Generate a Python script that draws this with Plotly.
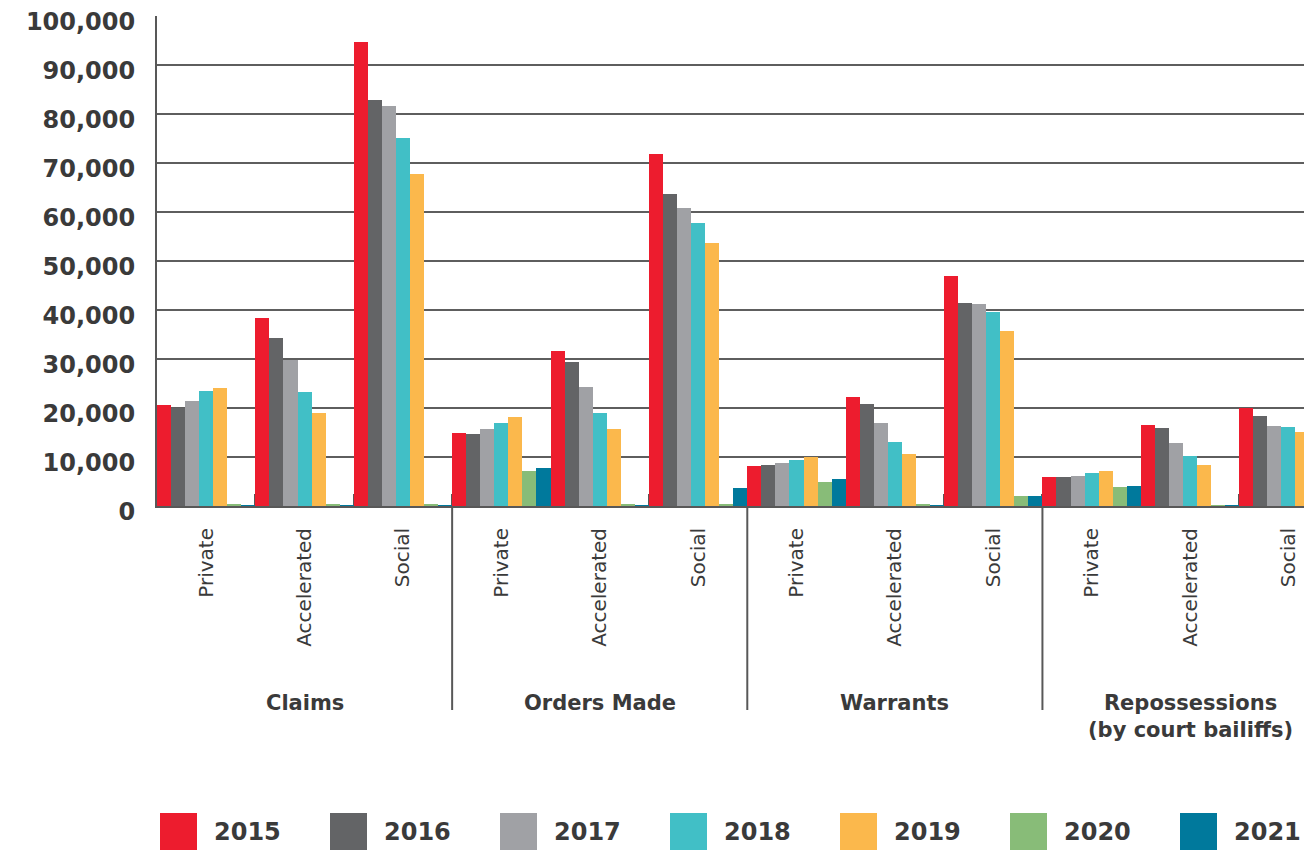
import plotly.graph_objects as go

groups = ["Claims", "Orders Made", "Warrants", "Repossessions<br>(by court bailiffs)"]
subs = ["Private", "Accelerated", "Social"]
years = ["2015", "2016", "2017", "2018", "2019", "2020", "2021"]
colors = ["#ED1C2E", "#636466", "#A0A1A5", "#41BFC6", "#FBB84C", "#88BC78", "#00799C"]

# order: Claims(P,A,S), Orders Made(P,A,S), Warrants(P,A,S), Repossessions(P,A,S)
v2015 = [20600, 38400, 94700, 14900, 31600, 71800, 8200, 22300, 46900, 5900, 16500, 19900]
v2016 = [20100, 34300, 82900, 14700, 29400, 63700, 8400, 20800, 41400, 5900, 15900, 18400]
v2017 = [21400, 29700, 81600, 15700, 24300, 60800, 8800, 16900, 41200, 6100, 12900, 16300]
v2018 = [23500, 23300, 75200, 16900, 19000, 57800, 9400, 13100, 39600, 6700, 10200, 16100]
v2019 = [24100, 19000, 67800, 18200, 15700, 53700, 9900, 10600, 35700, 7100, 8400, 15100]
v2020 = [300, 300, 300, 7100, 300, 300, 4900, 300, 2000, 3900, 200, 3500]
v2021 = [200, 200, 200, 7800, 200, 3700, 5500, 200, 2000, 4100, 100, 3600]
series = [v2015, v2016, v2017, v2018, v2019, v2020, v2021]

xpos = list(range(len(groups) * len(subs)))
ticktext = subs * len(groups)

TXT = "#3a3a3a"
LINE = "#585858"
FONT = "DejaVu Sans"

# page body has an 8px margin; plot area spans window px x 157..1312, y 16..506
PAD = 8
PL, PT, PW, PH = 157, 16, 1155, 490


def px_x(px):
    return (px - PL) / PW


def px_y(py):
    return (PT + PH - py) / PH


fig = go.Figure()
for name, col, vals in zip(years, colors, series):
    fig.add_trace(go.Bar(x=xpos, y=vals, name=name, marker=dict(color=col, line=dict(width=0)),
                         showlegend=False))

n_sub = len(subs)
boundaries = [i + 0.5 for i in xpos[:-1]]
group_bounds = [g * n_sub - 0.5 for g in range(1, len(groups))]

fig.update_layout(
    width=1312 - PAD, height=852 - PAD,
    margin=dict(l=PL - PAD, r=0, t=PT - PAD, b=852 - PAD - (PT - PAD) - PH, autoexpand=False),
    paper_bgcolor="white", plot_bgcolor="white",
    barmode="group", bargap=0, bargroupgap=0,
    font=dict(family=FONT, color=TXT),
    xaxis=dict(
        type="linear", range=[-0.5, 11.24], automargin=False,
        tickmode="array", tickvals=xpos, ticktext=ticktext, tickangle=-90,
        tickfont=dict(family=FONT, size=20, color=TXT),
        ticks="", ticklabelstandoff=12,
        showgrid=False, zeroline=False,
        showline=True, linecolor=LINE, linewidth=2,
        layer="below traces",
        minor=dict(tickmode="array", tickvals=boundaries, ticks="inside", ticklen=12,
                   tickcolor=LINE, tickwidth=2, showgrid=False),
    ),
    yaxis=dict(
        range=[0, 100000], dtick=10000, tickformat=",", automargin=False,
        tickfont=dict(family=FONT, size=24, color=TXT, weight="bold"),
        showgrid=True, gridcolor="#5e5e5e", gridwidth=1.5,
        zeroline=False, showline=True, linecolor=LINE, linewidth=2,
        ticks="", ticklabelstandoff=15, ticklabelshift=6,
    ),
)

# group dividers
for gb in group_bounds:
    fig.add_shape(type="line", xref="x", yref="paper", x0=gb, x1=gb, y0=0, y1=px_y(710),
                  line=dict(color=LINE, width=2))

# group labels
for gi, g in enumerate(groups):
    center = gi * n_sub + (n_sub - 1) / 2
    fig.add_annotation(x=center, xref="x", y=px_y(689), yref="paper", yanchor="top",
                       text=g, showarrow=False,
                       font=dict(family=FONT, size=21, color=TXT, weight="bold"))

# custom legend with large swatches
leg_x0 = 160
leg_step = 170
for i, (name, col) in enumerate(zip(years, colors)):
    px = leg_x0 + i * leg_step
    fig.add_shape(type="rect", xref="paper", yref="paper", x0=px_x(px), x1=px_x(px + 37),
                  y0=px_y(850), y1=px_y(813),
                  fillcolor=col, line=dict(width=0))
    fig.add_annotation(x=px_x(px + 52), xref="paper", xanchor="left",
                       y=px_y(832), yref="paper", yanchor="middle",
                       text=name, showarrow=False,
                       font=dict(family=FONT, size=24, color=TXT, weight="bold"))

fig.write_html("out.html")
